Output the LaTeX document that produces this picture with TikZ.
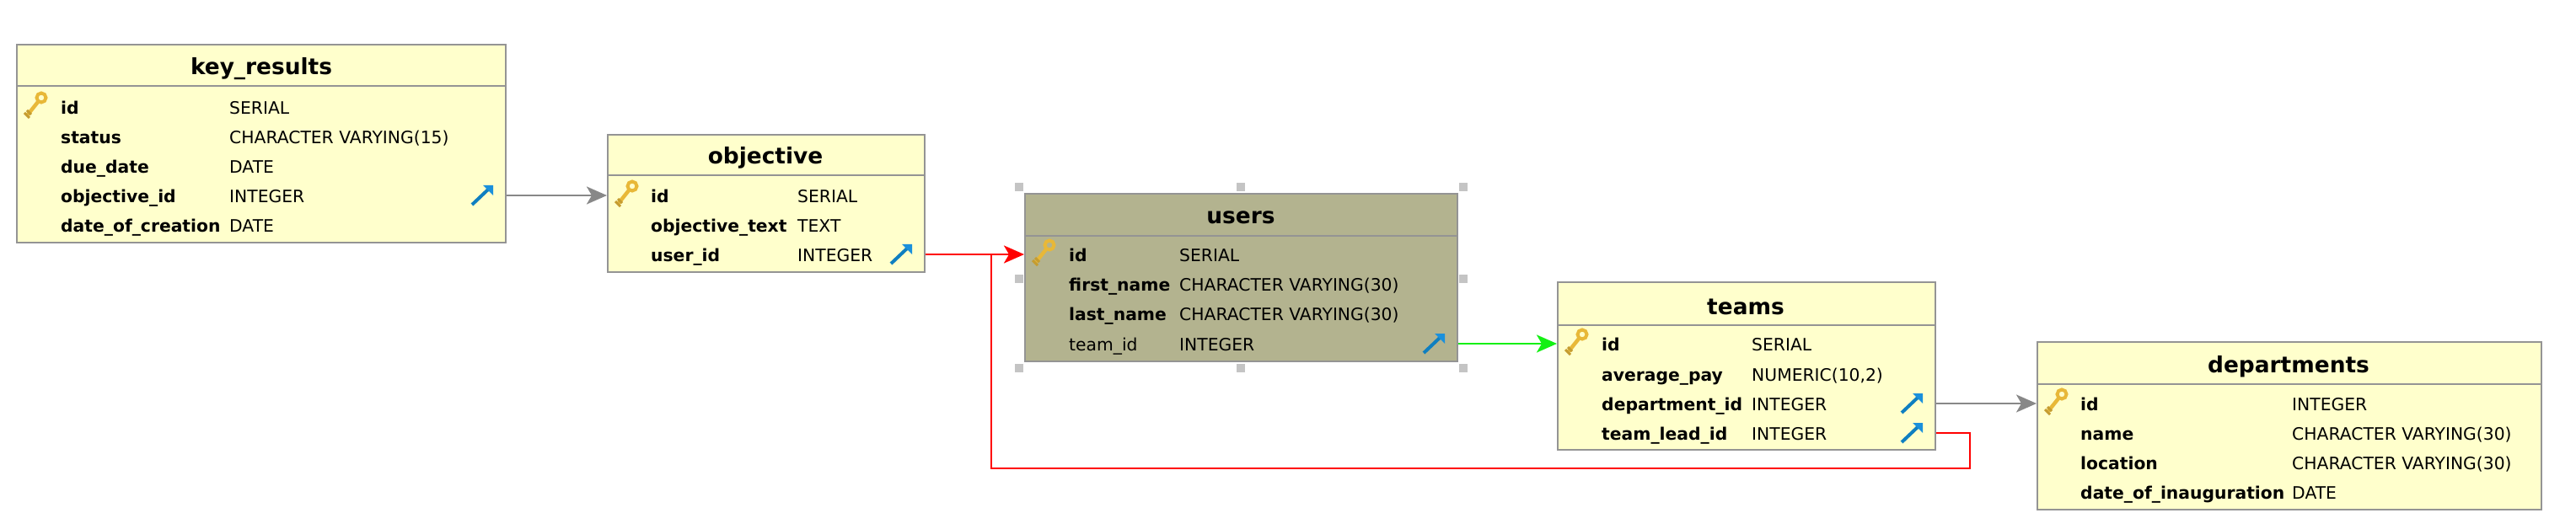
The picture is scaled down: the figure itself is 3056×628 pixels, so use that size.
\documentclass[tikz,border=0pt]{standalone}
\usepackage{fontspec}
\setmainfont{DejaVu Sans}
\usetikzlibrary{positioning}
\usetikzlibrary{arrows.meta}

\definecolor{tablefill}{HTML}{FFFFCC}
\definecolor{tablesel}{HTML}{B3B38F}
\definecolor{tableline}{HTML}{949494}
\definecolor{keygold}{HTML}{E8B838}
\definecolor{fkblue}{HTML}{0F7FC0}
\definecolor{fkhead}{HTML}{1A90DC}
\definecolor{linkgray}{HTML}{888888}
\definecolor{linkgreen}{HTML}{14F014}
\definecolor{handlegray}{HTML}{C4C4C4}

\tikzset{
  tablebox/.style={draw=tableline,line width=2.2pt,fill=tablefill,anchor=north west,inner sep=0pt},
  selbox/.style={tablebox,fill=tablesel},
  tabletitle/.style={font=\fontsize{26.4}{30}\selectfont\bfseries,inner sep=0pt,anchor=center},
  rowplain/.style={font=\fontsize{20.3}{24}\selectfont,inner sep=0pt,anchor=west,text height=21pt,text depth=4pt},
  rowbold/.style={rowplain,font=\fontsize{20.3}{24}\selectfont\bfseries},
  rowtype/.style={rowplain},
  link/.style={line width=2.5pt,arrows={-{Stealth[length=24pt,width=21pt,inset=6pt]}}},
  linkplain/.style={line width=2.5pt},
  keyicon/.pic={
    \draw [keygold,line width=4pt] (30,-11) circle [radius=5.5];
    \draw [keygold,line width=4.5pt] (26,-6) -- (14,9);
    \draw [keygold!85!black,line width=3pt] (13,4) -- (18,9);
    \draw [keygold!85!black,line width=3pt] (10,7) -- (16,13);
  },
  fkicon/.pic={
    \draw [fkblue,line width=4pt] (-39,11) -- (-20,-7);
    \fill [fkhead] (-26,-12) -- (-14,-12) -- (-14,0) -- cycle;
  },
}

\begin{document}
\begin{tikzpicture}[x=1pt,y=-1pt]
    \useasboundingbox (0,0) rectangle (3056,628);
    \fill [white] (0,0) rectangle (3056,628);

    % handles round the selected table
    \foreach \x/\y in {1209/222,1472/222,1736/222,1209/331,1736/331,1209/437,1472/437,1736/437}
    {
      \fill [handlegray] (\x-5,\y-5) rectangle ++(10,10);
    }

    % key_results
    \node [tablebox,minimum width=580pt,minimum height=235pt] (keyresults) at (19,52) {};
    \draw [tableline,line width=2.2pt] (keyresults.west |- 0,102) -- (keyresults.east |- 0,102);
    \node [tabletitle] (keyresults-title) at (310,82) {key\_results};
    \foreach \i/\n/\t/\y in {1/id/SERIAL/127,2/status/CHARACTER VARYING(15)/162,3/due\_date/DATE/197,4/objective\_id/INTEGER/232,5/date\_of\_creation/DATE/267}
    {
      \node [rowbold] (kr-\i) at (72,\y) {\n};
      \node [rowtype] (krt-\i) at (272,\y) {\t};
    }
    \pic at (19,127) {keyicon};
    \pic at (599,232) {fkicon};

    % objective
    \node [tablebox,minimum width=376pt,minimum height=163pt] (objective) at (720,159) {};
    \draw [tableline,line width=2.2pt] (objective.west |- 0,208) -- (objective.east |- 0,208);
    \node [tabletitle] (objective-title) at (908,187) {objective};
    \foreach \i/\n/\t/\y in {1/id/SERIAL/232,2/objective\_text/TEXT/267,3/user\_id/INTEGER/302}
    {
      \node [rowbold] (ob-\i) at (772,\y) {\n};
      \node [rowtype] (obt-\i) at (946,\y) {\t};
    }
    \pic at (720,232) {keyicon};
    \pic at (1096,302) {fkicon};

    % users
    \node [selbox,minimum width=513pt,minimum height=199pt] (users) at (1215,229) {};
    \draw [tableline,line width=2.2pt] (users.west |- 0,280) -- (users.east |- 0,280);
    \node [tabletitle] (users-title) at (1472,258) {users};
    \foreach \i/\n/\t/\s/\y in {1/id/SERIAL/rowbold/302,2/first\_name/CHARACTER VARYING(30)/rowbold/337,3/last\_name/CHARACTER VARYING(30)/rowbold/372,4/team\_id/INTEGER/rowplain/408}
    {
      \node [\s] (us-\i) at (1268,\y) {\n};
      \node [rowtype] (ust-\i) at (1399,\y) {\t};
    }
    \pic at (1215,302) {keyicon};
    \pic at (1728,408) {fkicon};

    % teams
    \node [tablebox,minimum width=448pt,minimum height=199pt] (teams) at (1847,334) {};
    \draw [tableline,line width=2.2pt] (teams.west |- 0,386) -- (teams.east |- 0,386);
    \node [tabletitle] (teams-title) at (2071,364) {teams};
    \foreach \i/\n/\t/\y in {1/id/SERIAL/408,2/average\_pay/{NUMERIC(10,2)}/444,3/department\_id/INTEGER/479,4/team\_lead\_id/INTEGER/514}
    {
      \node [rowbold] (tm-\i) at (1900,\y) {\n};
      \node [rowtype] (tmt-\i) at (2078,\y) {\t};
    }
    \pic at (1847,408) {keyicon};
    \pic at (2295,479) {fkicon};
    \pic at (2295,514) {fkicon};

    % departments
    \node [tablebox,minimum width=598pt,minimum height=199pt] (departments) at (2416,405) {};
    \draw [tableline,line width=2.2pt] (departments.west |- 0,456) -- (departments.east |- 0,456);
    \node [tabletitle] (departments-title) at (2715,435) {departments};
    \foreach \i/\n/\t/\y in {1/id/INTEGER/479,2/name/CHARACTER VARYING(30)/514,3/location/CHARACTER VARYING(30)/549,4/date\_of\_inauguration/DATE/584}
    {
      \node [rowbold] (dp-\i) at (2468,\y) {\n};
      \node [rowtype] (dpt-\i) at (2719,\y) {\t};
    }
    \pic at (2416,479) {keyicon};

    % links between tables
    \draw [link,linkgray] (keyresults.east |- kr-4) -- (objective.west |- ob-1);
    \draw [link,linkgray] (teams.east |- tm-3) -- (departments.west |- dp-1);
    \draw [link,linkgreen] (users.east |- us-4) -- (teams.west |- tm-1);
    \draw [link,red] (objective.east |- ob-3) -- (users.west |- us-1);
    \coordinate (turn-a) at (2337,514);
    \coordinate (turn-b) at (2337,556);
    \coordinate (turn-c) at (1176,556);
    \coordinate (turn-d) at (1176,302);
    \draw [linkplain,red] (teams.east |- tm-4) -- (turn-a) -- (turn-b) -- (turn-c) -- (turn-d);
\end{tikzpicture}
\end{document}
